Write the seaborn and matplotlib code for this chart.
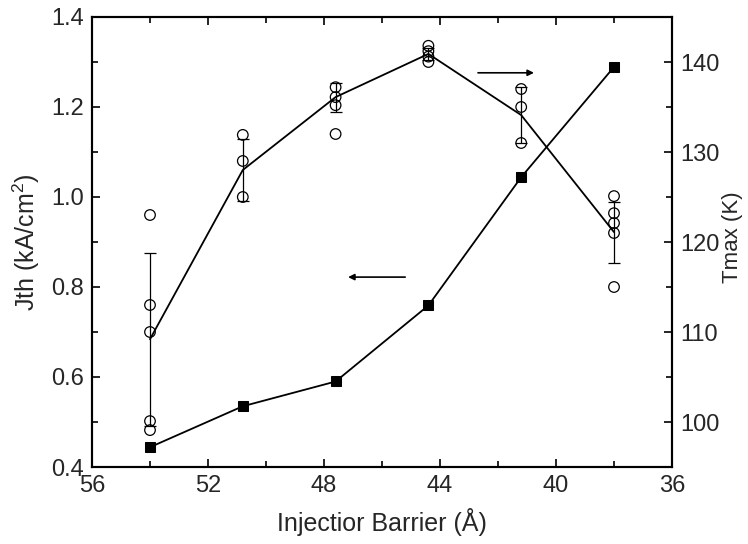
import matplotlib
matplotlib.use("Agg")
import matplotlib.pyplot as plt
import seaborn as sns
import pandas as pd
from matplotlib.ticker import MultipleLocator

# ---- data ----
barrier = [54.0, 50.8, 47.6, 44.4, 41.2, 38.0]
jth = [0.444, 0.535, 0.590, 0.759, 1.044, 1.289]
tmax_mean = [109.2, 128.0, 136.1, 140.9, 134.1, 121.1]
tmax_err = [9.6, 3.4, 1.6, 0.7, 3.15, 3.4]

# individual Tmax measurements per barrier
tmax_54 = [123.0, 113.0, 110.0, 100.1, 99.1]
tmax_508 = [131.9, 129.0, 125.0]
tmax_476 = [137.2, 136.1, 135.2, 132.0]
tmax_444 = [141.8, 141.2, 140.6, 140.0]
tmax_412 = [137.0, 135.0, 131.0]
tmax_38 = [125.1, 123.2, 122.1, 121.0, 115.0]

groups = [tmax_54, tmax_508, tmax_476, tmax_444, tmax_412, tmax_38]
pts_x = [b for b, g in zip(barrier, groups) for _ in g]
pts_y = [v for g in groups for v in g]

df_j = pd.DataFrame({"barrier": barrier, "jth": jth})
df_t = pd.DataFrame({"barrier": barrier, "tmax": tmax_mean})
df_p = pd.DataFrame({"barrier": pts_x, "tmax": pts_y})

sns.set_theme(style="ticks")
plt.rcParams["font.family"] = ["Liberation Sans", "DejaVu Sans"]
plt.rcParams["mathtext.fontset"] = "custom"
plt.rcParams["mathtext.rm"] = "Liberation Sans"
plt.rcParams["mathtext.it"] = "Liberation Sans"

fig = plt.figure(figsize=(7.48, 5.44), dpi=100)
ax = fig.add_axes([92 / 748, 1 - 467 / 544, 580 / 748, 450 / 544])
ax2 = ax.twinx()

sns.lineplot(data=df_j, x="barrier", y="jth", ax=ax, color="black",
             marker="s", markersize=6.5, markeredgecolor="black",
             linewidth=1.3, sort=False)

sns.lineplot(data=df_t, x="barrier", y="tmax", ax=ax2, color="black",
             linewidth=1.3, sort=False)
ax2.errorbar(barrier, tmax_mean, yerr=tmax_err, fmt="none", ecolor="black",
             elinewidth=0.9, capsize=4, capthick=0.9)
sns.scatterplot(data=df_p, x="barrier", y="tmax", ax=ax2, s=58,
                facecolor="none", edgecolor="black", linewidth=0.9, zorder=3)

ax.set_xlim(56, 36)
ax.set_ylim(0.4, 1.4)
ax2.set_ylim(95, 145)

ax.xaxis.set_major_locator(MultipleLocator(4))
ax.xaxis.set_minor_locator(MultipleLocator(2))
ax.yaxis.set_major_locator(MultipleLocator(0.2))
ax.yaxis.set_minor_locator(MultipleLocator(0.1))
ax2.yaxis.set_major_locator(MultipleLocator(10))
ax2.yaxis.set_minor_locator(MultipleLocator(5))
ax.yaxis.set_major_formatter(matplotlib.ticker.FormatStrFormatter("%.1f"))

fs_tick = 17
ax.tick_params(axis="x", which="both", direction="in", top=True, bottom=True,
               labelsize=fs_tick, width=1.2, color="black", pad=6)
ax.tick_params(axis="y", which="both", direction="in", left=True, right=False,
               labelsize=fs_tick, width=1.2, color="black", pad=6)
ax2.tick_params(axis="y", which="both", direction="in", right=True,
                labelsize=fs_tick, width=1.2, color="black", pad=6)
for a in (ax, ax2):
    a.tick_params(which="major", length=6)
    a.tick_params(which="minor", length=4)
    for s in a.spines.values():
        s.set_linewidth(1.5)
        s.set_color("black")

ax.set_xlabel("Injectior Barrier (Å)", fontsize=18, labelpad=8)
ax.set_ylabel("Jth (kA/cm$^{2}$)", fontsize=18, labelpad=6)
ax2.set_ylabel("Tmax (K)", fontsize=16, labelpad=0)
ax2.yaxis.set_label_coords(1.087, 0.51)

ax2.annotate("", xy=(40.76, 138.8), xytext=(42.69, 138.8),
             arrowprops=dict(arrowstyle="-|>", color="black", lw=1.2,
                             mutation_scale=9, shrinkA=0, shrinkB=0))
ax.annotate("", xy=(47.17, 0.822), xytext=(45.2, 0.822),
            arrowprops=dict(arrowstyle="-|>", color="black", lw=1.2,
                            mutation_scale=9, shrinkA=0, shrinkB=0))

fig.savefig("out.png", dpi=100)
